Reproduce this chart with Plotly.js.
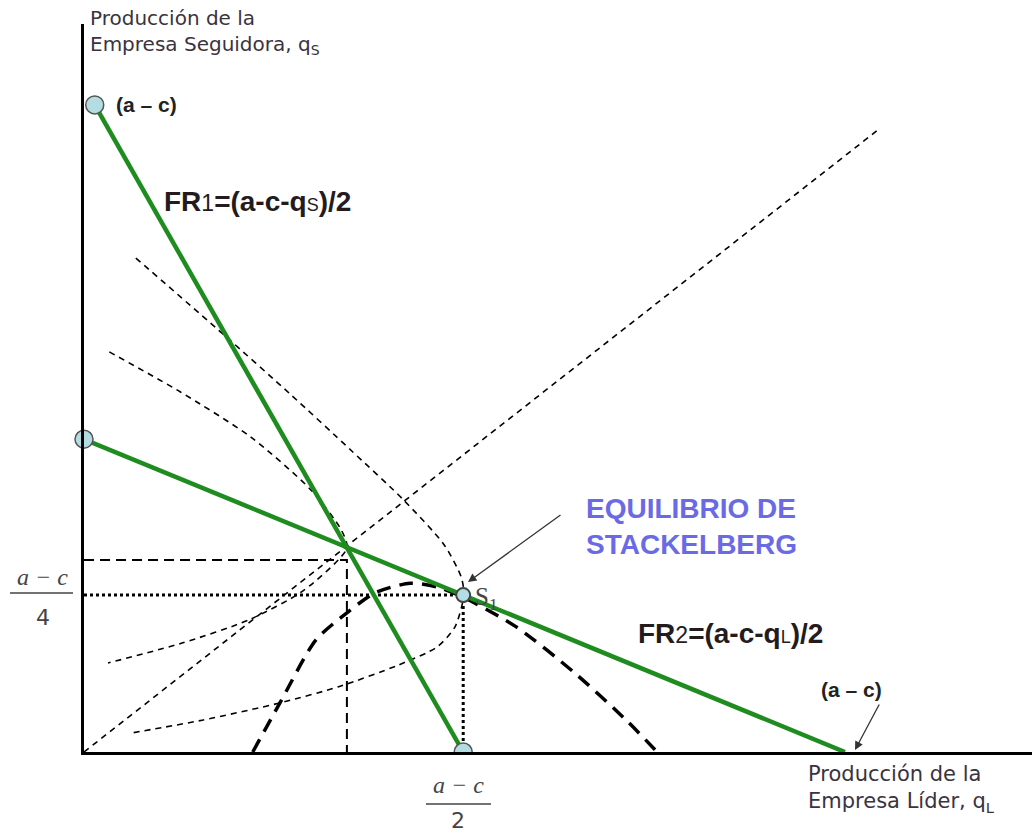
<!DOCTYPE html>
<html><head><meta charset="utf-8">
<script src="https://cdn.plot.ly/plotly-3.0.1.min.js"></script>
<style>body{margin:0;background:#fff}#chart{width:1032px;height:833px}</style>
</head><body><div id="chart"></div>
<script>
// Values, in units where (a - c) = 12 on both axes
const fr1QL = [0.17, 6.0];
const fr1QS = [12.0, 0.0];
const fr2QL = [0.0, 12.04];
const fr2QS = [5.8, 0.0];
const diagQL = [0, 12.6];
const diagQS = [0, 11.57];
const cournotQL = [0, 4.16, 4.16];
const cournotQS = [3.56, 3.56, 0];
const stackQL = [0, 6.0, 6.0];
const stackQS = [2.91, 2.91, 0];
const isoOuterQL = [0.82, 2.22, 3.26, 4.22, 5.06, 5.70, 5.97, 6.01, 5.87, 5.59, 4.97, 4.03, 3.10, 1.87, 0.74];
const isoOuterQS = [9.16, 7.73, 6.64, 5.60, 4.67, 3.84, 3.24, 2.91, 2.32, 1.95, 1.61, 1.21, 0.91, 0.59, 0.35];
const isoInnerQL = [0.40, 1.52, 2.64, 3.59, 4.07, 4.16, 3.48, 2.61, 1.55, 0.38];
const isoInnerQS = [7.42, 6.68, 5.84, 4.86, 4.12, 3.78, 3.00, 2.45, 2.02, 1.65];
const leaderQL = [2.67, 3.10, 3.67, 4.16, 4.60, 5.16, 5.59, 6.00, 6.84, 7.77, 8.58, 9.07];
const leaderQS = [0, 0.91, 2.08, 2.58, 2.95, 3.13, 3.06, 2.87, 2.32, 1.46, 0.59, 0];
const endQL = [0.17, 0.0, 12.05];
const endQS = [12.0, 5.8, -0.08];
const fr1EndQL = [6.0];
const fr1EndQS = [0.0];
const s1QL = [6.0];
const s1QS = [2.91];

// layout geometry
const W = 1032, H = 833;
const M = {l: 84, r: 0, t: 24, b: 81};
const XR = [0, 15], YR = [0, 13.5];
const pw = W - M.l - M.r, ph = H - M.t - M.b;
function dx(p) { return XR[0] + (p - M.l) / pw * (XR[1] - XR[0]); }
function dy(p) { return YR[0] + (M.t + ph - p) / ph * (YR[1] - YR[0]); }
function paperX(p) { return (p - M.l) / pw; }
function paperY(p) { return (M.t + ph - p) / ph; }

const green = '#1f8c1f';
const thin = {color: '#000', width: 1.6, dash: '6px,5px'};

const traces = [
  {x: diagQL, y: diagQS, mode: 'lines', line: thin},
  {x: isoOuterQL, y: isoOuterQS, mode: 'lines', line: Object.assign({shape: 'spline', smoothing: 0.7}, thin)},
  {x: isoInnerQL, y: isoInnerQS, mode: 'lines', line: Object.assign({shape: 'spline', smoothing: 0.7}, thin)},
  {x: cournotQL, y: cournotQS, mode: 'lines', line: {color: '#000', width: 2, dash: '10px,6px'}},
  {x: stackQL, y: stackQS, mode: 'lines', line: {color: '#000', width: 3, dash: '3px,3px'}},
  {x: leaderQL, y: leaderQS, mode: 'lines', line: {color: '#000', width: 3.5, dash: '14px,9px', shape: 'spline', smoothing: 0.7}},
  {x: fr1QL, y: fr1QS, mode: 'lines', line: {color: green, width: 4.5}},
  {x: fr2QL, y: fr2QS, mode: 'lines', line: {color: green, width: 4.5}},
  {x: fr1EndQL, y: fr1EndQS, mode: 'markers', cliponaxis: true,
   marker: {size: 18, color: '#b3dde3', line: {color: '#555', width: 1.5}}},
  {x: endQL, y: endQS, mode: 'markers', cliponaxis: false,
   marker: {size: 18, color: '#b3dde3', line: {color: '#555', width: 1.5}}},
  {x: s1QL, y: s1QS, mode: 'markers', cliponaxis: false,
   marker: {size: 14, color: '#b3dde3', line: {color: '#444', width: 2}}}
];
traces.forEach(t => { t.type = 'scatter'; t.hoverinfo = 'skip'; t.showlegend = false; });

function lab(xp, yp, text, font, xa) {
  return {x: paperX(xp), y: paperY(yp), xref: 'paper', yref: 'paper', text: text, showarrow: false,
    xanchor: xa || 'left', yanchor: 'middle', align: 'left', font: font};
}
function arrow(tx, ty, hx, hy) {
  return {x: dx(hx), y: dy(hy), ax: dx(tx), ay: dy(ty), xref: 'x', yref: 'y', axref: 'x', ayref: 'y',
    text: '', showarrow: true, arrowhead: 2, arrowsize: 1.3, arrowwidth: 1.3, arrowcolor: '#333', standoff: 0};
}
const axFont = {family: 'DejaVu Sans', size: 20, color: '#3a3340'};
const boldFont = {family: 'Liberation Sans', size: 28, color: '#241c1c'};
const acFont = {family: 'Liberation Sans', size: 21, color: '#222'};
const fracFont = {family: 'Liberation Serif', size: 24, color: '#444'};
const digitFont = {family: 'DejaVu Sans', size: 22, color: '#444'};

const annotations = [
  lab(88, 32, 'Producción de la<br>Empresa Seguidora, q<sub>S</sub>', axFont),
  lab(114, 104, '<b>(a – c)</b>', acFont),
  lab(162, 201, "<b>FR</b><span style='font-size:23px'>1</span><b>=(a-c-q</b><span style='font-size:18px'>S</span><b>)/2</b>", boldFont),
  lab(584, 526, '<b>EQUILIBRIO DE<br>STACKELBERG</b>', {family: 'Liberation Sans', size: 28, color: '#6a6ae6'}),
  lab(473, 598, 'S<sub>1</sub>', {family: 'Liberation Serif', size: 25, color: '#444'}),
  lab(636, 633, "<b>FR</b><span style='font-size:23px'>2</span><b>=(a-c-q</b><span style='font-size:18px'>L</span><b>)/2</b>", boldFont),
  lab(851, 689, '<b>(a – c)</b>', acFont, 'center'),
  lab(806, 789, 'Producción de la<br>Empresa Líder, q<sub>L</sub>', {family: 'DejaVu Sans', size: 21, color: '#3a3340'}),
  lab(42, 577, '<i>a − c</i>', fracFont, 'center'),
  lab(43, 617, '4', digitFont, 'center'),
  lab(458, 785, '<i>a − c</i>', fracFont, 'center'),
  lab(458, 820, '2', digitFont, 'center'),
  arrow(562, 514, 468, 582),
  arrow(880, 703, 855, 750)
];

const shapes = [
  {type: 'line', xref: 'paper', yref: 'paper', x0: paperX(10), x1: paperX(73), y0: paperY(593), y1: paperY(593),
   line: {color: '#444', width: 1.5}},
  {type: 'line', xref: 'paper', yref: 'paper', x0: paperX(426), x1: paperX(491), y0: paperY(804), y1: paperY(804),
   line: {color: '#444', width: 1.5}}
];

const axisBase = {showgrid: false, zeroline: false, showticklabels: false, ticks: '',
  showline: true, linecolor: '#000', linewidth: 3, fixedrange: true};

const layout = {
  width: W, height: H, margin: M,
  paper_bgcolor: '#fff', plot_bgcolor: '#fff', showlegend: false,
  xaxis: Object.assign({range: XR}, axisBase),
  yaxis: Object.assign({range: YR}, axisBase),
  annotations: annotations, shapes: shapes
};

Plotly.newPlot('chart', traces, layout, {staticPlot: true});
</script>
</body></html>
